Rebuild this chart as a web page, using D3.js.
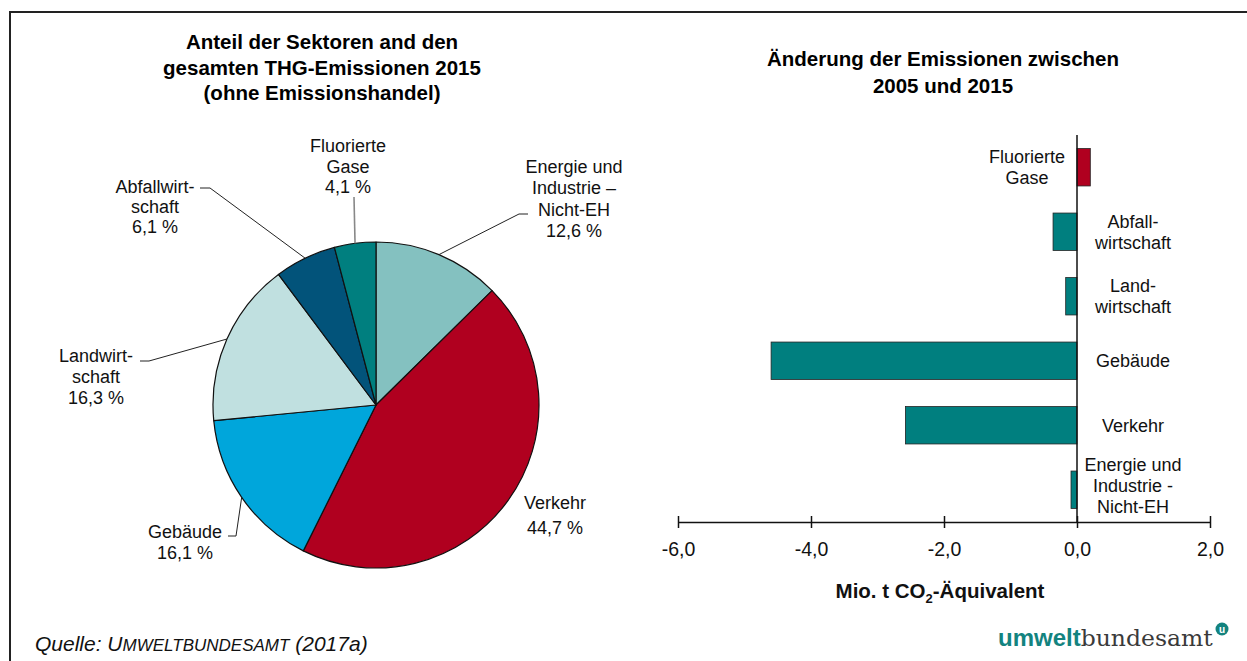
<!DOCTYPE html>
<html><head><meta charset="utf-8">
<script src="https://cdn.jsdelivr.net/npm/d3@7"></script>
<style>
body{margin:0;background:#fff}
svg{display:block;font-family:"Liberation Sans",Arial,sans-serif}
</style>
</head><body>
<svg id="c" width="1247" height="661"></svg>
<script>
// Share of sectors in total non-ETS GHG emissions 2015 (pie)
const sectors = ["Energie und Industrie – Nicht-EH","Verkehr","Gebäude","Landwirtschaft","Abfallwirtschaft","Fluorierte Gase"];
const shares = [12.6, 44.7, 16.1, 16.3, 6.1, 4.1];
const shareLabels = [["Energie und","Industrie –","Nicht-EH"],["Verkehr"],["Gebäude"],["Landwirt-","schaft"],["Abfallwirt-","schaft"],["Fluorierte","Gase"]];
const shareColors = ["#84c1c0","#b0001f","#00a6db","#c0e0e0","#02537a","#007f7f"];

// Change in emissions 2005–2015 (bars, Mio. t CO2-eq)
const changeCategories = ["Fluorierte Gase","Abfallwirtschaft","Landwirtschaft","Gebäude","Verkehr","Energie und Industrie - Nicht-EH"];
const changeLabels = [["Fluorierte","Gase"],["Abfall-","wirtschaft"],["Land-","wirtschaft"],["Gebäude"],["Verkehr"],["Energie und","Industrie -","Nicht-EH"]];
const changeValues = [0.2, -0.36, -0.17, -4.6, -2.58, -0.09];
const xTicks = [-6, -4, -2, 0, 2];

const de = d3.formatLocale({decimal: ",", thousands: ".", grouping: [3], currency: ["", " €"], minus: "-"});
const f1 = de.format(".1f");

const svg = d3.select("#c");

// outer frame
svg.append("path").attr("d", "M10,661 V12 H1247").attr("fill", "none")
  .attr("stroke", "#222").attr("stroke-width", 2);

// ---------- pie ----------
const cx = 376, cy = 405, R = 163;
const pie = d3.pie().sort(null).value(d => d);
const arcs = pie(shares);
const arc = d3.arc().innerRadius(0).outerRadius(R);
const gPie = svg.append("g").attr("transform", `translate(${cx},${cy})`);
gPie.selectAll("path").data(arcs).join("path")
  .attr("d", arc).attr("fill", (d, i) => shareColors[i])
  .attr("stroke", "#111").attr("stroke-width", 1.2).attr("stroke-linejoin", "round");

svg.append("g").attr("text-anchor", "middle").attr("font-weight", "bold").attr("font-size", 20.5)
  .selectAll("text").data(["Anteil der Sektoren and den", "gesamten THG-Emissionen 2015", "(ohne Emissionshandel)"])
  .join("text").attr("x", 322).attr("y", (d, i) => 49 + i * 25.5).text(d => d);

// label placement per slice: text centre x, first baseline, line height, leader kink points
const labelPos = [
  {x: 574, y: 173, lh: 21.3, leader: [[519, 214], [528, 214]]},
  {x: 555, y: 509, lh: 24.5, leader: null},
  {x: 185, y: 538, lh: 21, leader: [[236, 536], [228, 536]]},
  {x: 96, y: 362, lh: 21, leader: [[149, 361], [140, 361]]},
  {x: 155, y: 193, lh: 19.8, leader: [[210, 188], [200, 188]]},
  {x: 348, y: 152, lh: 20.5, leader: [[354, 197]], grey: true}
];
const gLab = svg.append("g").attr("font-size", 18).attr("fill", "#111");
arcs.forEach((a, i) => {
  const p = labelPos[i];
  const lines = shareLabels[i].concat([f1(shares[i]) + " %"]);
  lines.forEach((t, k) => {
    gLab.append("text").attr("x", p.x).attr("y", p.y + k * p.lh)
      .attr("text-anchor", "middle").text(t);
  });
  if (p.leader) {
    const mid = (a.startAngle + a.endAngle) / 2;
    const edge = [cx + R * Math.sin(mid), cy - R * Math.cos(mid)];
    const pts = [edge].concat(p.leader);
    svg.append("path").attr("d", d3.line()(pts)).attr("fill", "none")
      .attr("stroke", p.grey ? "#888" : "#222").attr("stroke-width", p.grey ? 1.6 : 1);
  }
});

// ---------- bars ----------
svg.append("g").attr("text-anchor", "middle").attr("font-weight", "bold").attr("font-size", 20.5)
  .selectAll("text").data(["Änderung der Emissionen zwischen", "2005 und 2015"])
  .join("text").attr("x", 943).attr("y", (d, i) => 66 + i * 27).text(d => d);

const x = d3.scaleLinear().domain([-6, 2]).range([678, 1210]);
const y = d3.scaleBand().domain(changeCategories).range([135, 522]).paddingInner(0.42).paddingOuter(0.21);

svg.append("g").selectAll("rect").data(changeValues).join("rect")
  .attr("x", d => x(Math.min(0, d)))
  .attr("width", d => Math.abs(x(d) - x(0)))
  .attr("y", (d, i) => y(changeCategories[i]))
  .attr("height", y.bandwidth())
  .attr("fill", d => d > 0 ? "#b0001f" : "#007f7f")
  .attr("stroke", "#222").attr("stroke-width", 0.8);

// category labels beside the zero line
const gCat = svg.append("g").attr("font-size", 18).attr("fill", "#111").attr("text-anchor", "middle");
changeCategories.forEach((c, i) => {
  const lines = changeLabels[i];
  const lh = 21;
  const cyb = y(c) + y.bandwidth() / 2 - (lines.length > 2 ? 4 : 0);
  const tx = changeValues[i] > 0 ? 1027 : 1133;
  lines.forEach((t, k) => {
    gCat.append("text").attr("x", tx)
      .attr("y", cyb - (lines.length - 1) * lh / 2 + k * lh + 6.5).text(t);
  });
});

// zero line
svg.append("line").attr("x1", x(0)).attr("x2", x(0)).attr("y1", 135).attr("y2", 522)
  .attr("stroke", "#111").attr("stroke-width", 1.5);

// x axis
const gx = svg.append("g").attr("transform", "translate(0,522)")
  .call(d3.axisBottom(x).tickValues(xTicks).tickSizeInner(-6).tickSizeOuter(0).tickPadding(20).tickFormat(f1));
gx.select(".domain").attr("stroke", "#111").attr("stroke-width", 1.5);
gx.selectAll(".tick line").attr("stroke", "#111").attr("stroke-width", 1.5).attr("y1", 6).attr("y2", -6);
gx.selectAll(".tick text").attr("font-size", 19.5).attr("fill", "#111")
  .attr("font-family", '"Liberation Sans",Arial,sans-serif');

const ax = svg.append("text").attr("x", 940).attr("y", 598).attr("text-anchor", "middle")
  .attr("font-weight", "bold").attr("font-size", 20.5).attr("fill", "#111");
ax.append("tspan").text("Mio. t CO");
ax.append("tspan").attr("font-size", 13).attr("dy", 5).text("2");
ax.append("tspan").attr("dy", -5).text("-Äquivalent");

// ---------- footer ----------
const src = svg.append("text").attr("x", 35).attr("y", 651).attr("font-style", "italic")
  .attr("font-size", 21).attr("fill", "#111");
src.append("tspan").text("Quelle: U");
src.append("tspan").attr("font-size", 17).text("MWELTBUNDESAMT");
src.append("tspan").text(" (2017a)");

const logo = svg.append("text").attr("x", 998).attr("y", 646).attr("font-size", 24);
logo.append("tspan").attr("font-weight", "bold").attr("fill", "#13837f").text("umwelt");
logo.append("tspan").attr("font-family", '"DejaVu Serif",serif').attr("font-size", 23)
  .attr("fill", "#3a3a3a").attr("textLength", 132).attr("lengthAdjust", "spacingAndGlyphs").text("bundesamt");
svg.append("circle").attr("cx", 1222).attr("cy", 629).attr("r", 6.5).attr("fill", "#13837f");
svg.append("text").attr("x", 1222).attr("y", 632.5).attr("text-anchor", "middle")
  .attr("font-size", 10).attr("font-weight", "bold").attr("fill", "#fff").text("u");
</script>
</body></html>
